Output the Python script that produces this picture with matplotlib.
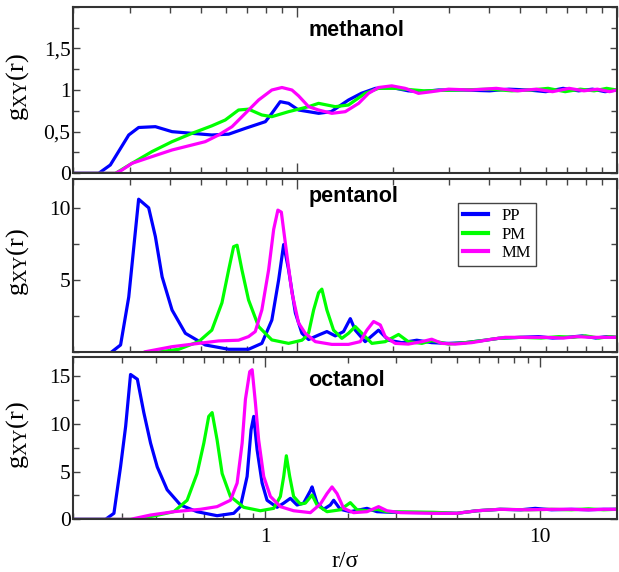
import matplotlib
matplotlib.use("Agg")
import matplotlib.pyplot as plt
from matplotlib.ticker import FixedLocator, FuncFormatter, LogLocator, NullFormatter

# -----------------------
# Data: r/sigma and g_XY(r)
# -----------------------

# methanol
r_meth_pp = [0.2, 0.24, 0.261, 0.298, 0.32, 0.361, 0.407, 0.47, 0.542, 0.612, 0.69, 0.797, 0.835,
             0.887, 0.942, 1.012, 1.088, 1.17, 1.28, 1.45, 1.59, 1.76, 1.98, 2.23, 2.45, 2.77,
             3.3, 4.0, 4.6, 5.3, 6.0, 6.8, 7.6, 8.4, 9.2, 10.0]
g_meth_pp = [0, 0, 0.1, 0.46, 0.55, 0.56, 0.5, 0.48, 0.46, 0.47, 0.54, 0.62, 0.72,
             0.86, 0.84, 0.76, 0.74, 0.72, 0.74, 0.88, 0.96, 1.02, 1.03, 0.99, 0.98, 1.0,
             1.0, 0.99, 1.01, 1.0, 0.98, 1.02, 0.99, 1.01, 0.98, 1.0]

r_meth_pm = [0.2, 0.271, 0.305, 0.352, 0.407, 0.47, 0.542, 0.597, 0.657, 0.706, 0.777, 0.835,
             0.942, 1.088, 1.169, 1.318, 1.45, 1.635, 1.80, 2.03, 2.5, 3.2,
             4.0, 4.7, 5.4, 6.1, 6.9, 7.7, 8.5, 9.3, 10.0]
g_meth_pm = [0, 0, 0.12, 0.26, 0.38, 0.48, 0.57, 0.64, 0.76, 0.77, 0.70, 0.68,
             0.74, 0.80, 0.84, 0.80, 0.82, 0.96, 1.02, 1.02, 0.99, 1.0,
             1.01, 0.99, 1.0, 1.02, 0.98, 1.01, 0.99, 1.02, 1.0]

r_meth_mm = [0.2, 0.271, 0.284, 0.305, 0.352, 0.407, 0.47, 0.517, 0.569, 0.627, 0.69, 0.759,
             0.835, 0.898, 0.965, 1.012, 1.088, 1.169, 1.286, 1.417, 1.56, 1.675, 1.80, 1.98,
             2.18, 2.40, 2.64, 2.98, 3.5, 4.2, 4.9, 5.6, 6.3, 7.1, 7.9, 8.7, 9.5, 10.0]
g_meth_mm = [0, 0, 0.04, 0.12, 0.20, 0.28, 0.34, 0.38, 0.46, 0.56, 0.72, 0.88,
             1.0, 1.03, 1.0, 0.93, 0.80, 0.76, 0.72, 0.74, 0.84, 0.96, 1.03, 1.05,
             1.02, 0.96, 0.98, 1.01, 1.0, 1.02, 0.99, 1.01, 0.98, 1.02, 0.99, 1.01, 0.98, 1.0]

# pentanol
r_pent_pp = [0.264, 0.281, 0.298, 0.320, 0.344, 0.361, 0.379, 0.407, 0.448, 0.517, 0.612, 0.706,
             0.777, 0.835, 0.877, 0.909, 0.942, 0.989, 1.037, 1.088, 1.169, 1.241, 1.318, 1.399,
             1.469, 1.522, 1.635, 1.80, 1.934, 2.129, 2.371, 2.64, 2.98, 3.36, 3.879, 4.27,
             5.0, 5.7, 6.3, 7.0, 7.8, 8.6, 9.3, 10.0]
g_pent_pp = [0, 0.47, 3.8, 10.6, 10.0, 8.0, 5.2, 2.9, 1.28, 0.47, 0.17, 0.17,
             0.58, 2.2, 5.0, 7.45, 5.7, 2.7, 1.28, 0.85, 1.16, 1.4, 1.1, 1.4,
             2.3, 1.5, 0.7, 1.5, 0.8, 0.63, 0.8, 0.63, 0.58, 0.63, 0.8, 0.93,
             1.0, 1.05, 0.95, 1.0, 1.1, 0.95, 1.05, 1.0]

r_pent_pm = [0.374, 0.427, 0.493, 0.542, 0.583, 0.612, 0.634, 0.650, 0.673, 0.706, 0.759, 0.835,
             0.942, 1.037, 1.062, 1.088, 1.128, 1.169, 1.197, 1.241, 1.302, 1.382, 1.45, 1.522,
             1.597, 1.716, 1.889, 2.079, 2.23, 2.459, 2.64, 2.98, 3.36, 3.879, 4.27,
             5.0, 5.8, 6.6, 7.3, 8.0, 8.8, 9.5, 10.0]
g_pent_pm = [0, 0.17, 0.7, 1.5, 3.4, 5.7, 7.3, 7.4, 5.7, 3.6, 1.75, 0.82,
             0.58, 0.8, 1.0, 1.3, 2.9, 4.1, 4.35, 2.9, 1.5, 0.93, 1.28, 1.75,
             1.28, 0.58, 0.7, 1.2, 0.7, 0.58, 0.77, 0.53, 0.63, 0.8, 0.93,
             1.0, 0.95, 1.05, 1.0, 1.1, 0.95, 1.05, 1.0]

r_pent_mm = [0.336, 0.407, 0.493, 0.569, 0.657, 0.706, 0.741, 0.777, 0.816, 0.846, 0.872, 0.894,
             0.920, 0.965, 1.012, 1.062, 1.142, 1.286, 1.45, 1.578, 1.655, 1.737, 1.823, 1.889,
             2.03, 2.23, 2.459, 2.64, 2.839, 3.126, 3.523, 4.069, 4.48,
             5.2, 6.0, 6.8, 7.5, 8.3, 9.0, 10.0]
g_pent_mm = [0, 0.35, 0.58, 0.75, 0.8, 1.05, 1.4, 2.9, 5.7, 8.5, 9.84, 9.7,
             7.56, 4.1, 2.0, 1.28, 0.7, 0.51, 0.51, 0.7, 1.5, 2.1, 1.86, 1.05,
             0.58, 0.53, 0.7, 0.87, 0.58, 0.53, 0.63, 0.87, 1.0,
             1.0, 1.0, 0.95, 1.05, 1.0, 1.0, 1.0]

# octanol
r_oct_pp = [0.2, 0.262, 0.281, 0.297, 0.310, 0.323, 0.342, 0.361, 0.382, 0.404, 0.439, 0.491,
            0.564, 0.667, 0.767, 0.811, 0.858, 0.887, 0.907, 0.933, 0.973, 1.014, 1.103, 1.166,
            1.233, 1.304, 1.378, 1.458, 1.479, 1.542, 1.629, 1.723, 1.772, 1.874, 2.037, 2.343,
            2.548, 2.849, 4.0, 4.98, 5.888, 7.153, 8.5, 9.6, 11.0, 13.0, 15.0, 17.0, 19.0]
g_oct_pp = [0, 0, 0.63, 5.5, 9.75, 15.2, 14.7, 11.2, 8.0, 5.5, 3.1, 1.5,
            0.8, 0.38, 0.63, 1.33, 4.5, 9.4, 10.8, 7.3, 3.8, 2.0, 1.26, 1.7,
            2.2, 1.5, 1.7, 3.0, 3.4, 1.7, 1.05, 1.5, 2.0, 1.05, 0.8, 1.15,
            0.8, 0.74, 0.7, 0.63, 0.9, 1.05, 1.0, 1.15, 1.0, 1.05, 1.0, 1.05, 1.05]

r_oct_pm = [0.2, 0.332, 0.393, 0.464, 0.519, 0.564, 0.597, 0.622, 0.640, 0.667, 0.696, 0.746,
            0.834, 0.959, 1.072, 1.134, 1.166, 1.192, 1.226, 1.267, 1.341, 1.398, 1.479, 1.542,
            1.676, 1.874, 2.037, 2.156, 2.343, 2.548, 2.771, 4.093, 4.98, 5.888, 7.153,
            9.0, 11.0, 13.0, 15.0, 17.0, 19.0]
g_oct_pm = [0, 0, 0.35, 0.8, 2.0, 4.8, 8.0, 10.8, 11.2, 8.35, 4.8, 2.4,
            1.26, 0.9, 1.15, 2.4, 4.5, 6.67, 4.5, 2.4, 1.6, 1.7, 2.55, 1.5,
            0.8, 1.0, 1.75, 1.0, 0.9, 1.05, 0.8, 0.74, 0.63, 0.9, 1.05,
            1.0, 1.05, 1.0, 1.1, 1.0, 1.05]

r_oct_mm = [0.2, 0.323, 0.382, 0.464, 0.580, 0.667, 0.746, 0.789, 0.823, 0.846, 0.877, 0.895,
            0.920, 0.945, 0.986, 1.043, 1.134, 1.267, 1.458, 1.585, 1.676, 1.748, 1.823, 1.927,
            2.094, 2.343, 2.582, 2.771, 3.097, 4.093, 4.98, 5.888, 7.153,
            9.0, 11.0, 13.0, 15.0, 17.0, 19.0]
g_oct_mm = [0, 0, 0.45, 0.8, 1.05, 1.33, 2.0, 3.8, 8.0, 12.6, 15.5, 15.7,
            12.2, 8.35, 4.5, 2.4, 1.33, 0.9, 0.7, 1.6, 2.7, 3.4, 2.7, 1.15,
            0.7, 0.8, 1.33, 0.9, 0.7, 0.63, 0.63, 0.9, 1.05,
            1.0, 1.05, 1.05, 1.0, 1.05, 1.05]

series_labels = ["PP", "PM", "MM"]
series_colors = ["#0000ff", "#00ff00", "#ff00ff"]

# -----------------------
# Plot
# -----------------------
plt.rcParams["mathtext.fontset"] = "custom"
plt.rcParams["mathtext.rm"] = "Liberation Serif"
plt.rcParams["mathtext.it"] = "Liberation Serif:italic"

SERIF = "Liberation Serif"
SANS = "Liberation Sans"

fig = plt.figure(figsize=(6.19, 5.72), dpi=100)
ax1 = fig.add_axes([0.1185, 0.697, 0.8778, 0.2913])
ax2 = fig.add_axes([0.1185, 0.3851, 0.8778, 0.3019])
ax3 = fig.add_axes([0.1185, 0.0921, 0.8778, 0.2832])

panels = [
    (ax1, "methanol", [(r_meth_pp, g_meth_pp), (r_meth_pm, g_meth_pm), (r_meth_mm, g_meth_mm)],
     (0.2, 10), (0, 2), [0, 0.5, 1, 1.5], 0.25, 0.86),
    (ax2, "pentanol", [(r_pent_pp, g_pent_pp), (r_pent_pm, g_pent_pm), (r_pent_mm, g_pent_mm)],
     (0.2, 10), (0, 12), [5, 10], 2.5, 0.897),
    (ax3, "octanol", [(r_oct_pp, g_oct_pp), (r_oct_pm, g_oct_pm), (r_oct_mm, g_oct_mm)],
     (0.2, 19), (0, 17), [0, 5, 10, 15], 2.5, 0.86),
]

def comma_fmt(v, pos):
    s = ("%g" % v).replace(".", ",")
    return s

for ax, name, curves, xlim, ylim, yticks, yminor, title_y in panels:
    for (r, g), lab, col in zip(curves, series_labels, series_colors):
        ax.plot(r, g, color=col, lw=2.3, label=lab, solid_joinstyle="round")
    ax.set_xscale("log")
    ax.set_xlim(*xlim)
    ax.set_ylim(*ylim)
    ax.yaxis.set_major_locator(FixedLocator(yticks))
    ax.yaxis.set_minor_locator(FixedLocator(
        [k * yminor for k in range(int(ylim[1] / yminor) + 1) if k * yminor not in yticks]))
    ax.yaxis.set_major_formatter(FuncFormatter(comma_fmt))
    ax.xaxis.set_major_locator(LogLocator(base=10, numticks=10))
    ax.xaxis.set_minor_locator(LogLocator(base=10, subs=range(2, 10), numticks=20))
    ax.xaxis.set_minor_formatter(NullFormatter())
    ax.tick_params(which="both", direction="in", top=True, right=True, width=1.0, color="#444444")
    ax.tick_params(axis="x", which="major", length=7)
    ax.tick_params(axis="x", which="minor", length=4)
    ax.tick_params(axis="y", which="major", length=5)
    ax.tick_params(axis="y", which="minor", length=4)
    ax.tick_params(axis="y", labelsize=15.5, pad=2)
    for lbl in ax.get_yticklabels():
        lbl.set_family(SERIF)
    for sp in ax.spines.values():
        sp.set_linewidth(1.5)
        sp.set_color("#333333")
    ax.set_ylabel(r"$\mathrm{g_{XY}(r)}$", fontsize=19)
    ax.yaxis.set_label_coords(-0.078, 0.52)
    ax.text(0.432, title_y, name, transform=ax.transAxes, fontsize=15.5,
            fontweight="bold", family=SANS, va="center", ha="left")
    if ax is not ax3:
        ax.tick_params(axis="x", labelbottom=False)

ax3.tick_params(axis="x", labelsize=15.5, pad=6)
for lbl in ax3.get_xticklabels():
    lbl.set_family(SERIF)
ax3.xaxis.set_major_formatter(FuncFormatter(lambda v, p: "%g" % v))
ax3.set_xlabel("r/σ", fontsize=17, family=SERIF, labelpad=3)

leg = ax2.legend(loc="upper left", bbox_to_anchor=(0.708, 0.861), frameon=True, fancybox=False,
                 edgecolor="#444444", framealpha=1, prop={"family": SERIF, "size": 12},
                 handlelength=1.5, handletextpad=0.8, borderpad=0.3, labelspacing=0.15,
                 borderaxespad=0)
leg.get_frame().set_linewidth(1.0)
for ln in leg.get_lines():
    ln.set_linewidth(3)

fig.savefig("out.png", dpi=100)
